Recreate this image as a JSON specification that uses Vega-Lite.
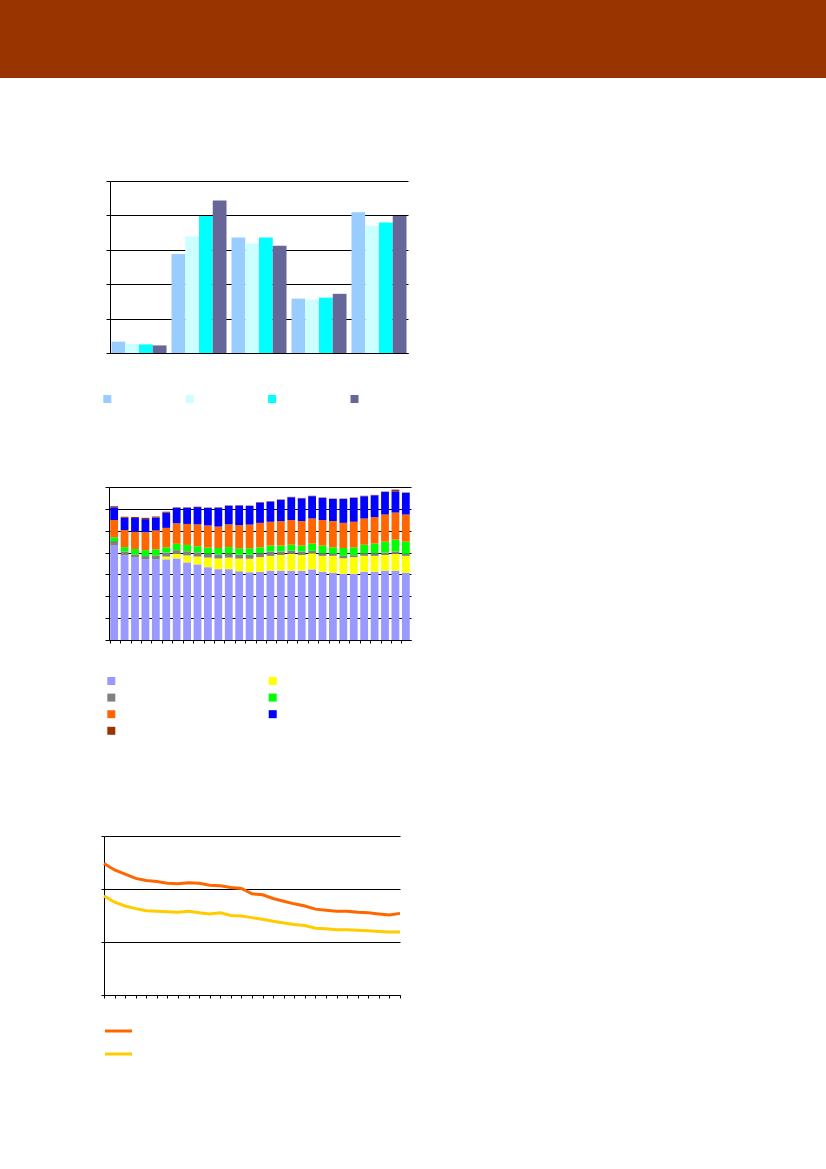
{
  "$schema": "https://vega.github.io/schema/vega-lite/v6.json",
  "padding": 0,
  "spacing": 0,
  "background": "white",
  "resolve": {"scale": {"color": "independent"}, "legend": {"color": "independent"}},
  "config": {
    "view": {"stroke": null},
    "axis": {"labels": false, "title": null, "domainColor": "black", "tickColor": "black", "gridColor": "black", "gridOpacity": 1, "domainWidth": 1, "tickWidth": 1, "gridWidth": 1},
    "legend": {"title": null, "padding": 0, "labelExpr": "''", "labelFontSize": 1, "labelOffset": 0, "labelOpacity": 0, "labelColor": "white", "symbolStrokeWidth": 0, "symbolOpacity": 1}
  },
  "datasets": {
    "header": [{"h": "band"}],
    "empty": [],
    "groups": [
      {"g": "G1", "s": "S1", "v": 0.33}, {"g": "G1", "s": "S2", "v": 0.27}, {"g": "G1", "s": "S3", "v": 0.25}, {"g": "G1", "s": "S4", "v": 0.22},
      {"g": "G2", "s": "S1", "v": 2.88}, {"g": "G2", "s": "S2", "v": 3.39}, {"g": "G2", "s": "S3", "v": 3.98}, {"g": "G2", "s": "S4", "v": 4.43},
      {"g": "G3", "s": "S1", "v": 3.36}, {"g": "G3", "s": "S2", "v": 3.18}, {"g": "G3", "s": "S3", "v": 3.36}, {"g": "G3", "s": "S4", "v": 3.12},
      {"g": "G4", "s": "S1", "v": 1.58}, {"g": "G4", "s": "S2", "v": 1.55}, {"g": "G4", "s": "S3", "v": 1.61}, {"g": "G4", "s": "S4", "v": 1.72},
      {"g": "G5", "s": "S1", "v": 4.09}, {"g": "G5", "s": "S2", "v": 3.70}, {"g": "G5", "s": "S3", "v": 3.79}, {"g": "G5", "s": "S4", "v": 3.98}
    ],
    "stack": [
      {"p": 1, "s": "S1", "v": 43.3}, {"p": 1, "s": "S3", "v": 2.0}, {"p": 1, "s": "S4", "v": 1.7}, {"p": 1, "s": "S5", "v": 7.9}, {"p": 1, "s": "S6", "v": 5.8}, {"p": 1, "s": "S7", "v": 0.5},
      {"p": 2, "s": "S1", "v": 38.7}, {"p": 2, "s": "S3", "v": 1.8}, {"p": 2, "s": "S4", "v": 2.0}, {"p": 2, "s": "S5", "v": 7.8}, {"p": 2, "s": "S6", "v": 5.6}, {"p": 2, "s": "S7", "v": 0.5},
      {"p": 3, "s": "S1", "v": 37.8}, {"p": 3, "s": "S3", "v": 1.3}, {"p": 3, "s": "S4", "v": 2.5}, {"p": 3, "s": "S5", "v": 8.0}, {"p": 3, "s": "S6", "v": 6.2}, {"p": 3, "s": "S7", "v": 0.5},
      {"p": 4, "s": "S1", "v": 37.0}, {"p": 4, "s": "S3", "v": 1.4}, {"p": 4, "s": "S4", "v": 2.7}, {"p": 4, "s": "S5", "v": 8.2}, {"p": 4, "s": "S6", "v": 6.0}, {"p": 4, "s": "S7", "v": 0.6},
      {"p": 5, "s": "S1", "v": 36.9}, {"p": 5, "s": "S3", "v": 1.8}, {"p": 5, "s": "S4", "v": 2.8}, {"p": 5, "s": "S5", "v": 8.6}, {"p": 5, "s": "S6", "v": 5.9}, {"p": 5, "s": "S7", "v": 0.5},
      {"p": 6, "s": "S1", "v": 36.9}, {"p": 6, "s": "S2", "v": 1.3}, {"p": 6, "s": "S3", "v": 1.8}, {"p": 6, "s": "S4", "v": 2.4}, {"p": 6, "s": "S5", "v": 8.9}, {"p": 6, "s": "S6", "v": 6.9}, {"p": 6, "s": "S7", "v": 0.5},
      {"p": 7, "s": "S1", "v": 37.3}, {"p": 7, "s": "S2", "v": 2.3}, {"p": 7, "s": "S3", "v": 1.5}, {"p": 7, "s": "S4", "v": 2.9}, {"p": 7, "s": "S5", "v": 9.4}, {"p": 7, "s": "S6", "v": 7.1}, {"p": 7, "s": "S7", "v": 0.2},
      {"p": 8, "s": "S1", "v": 35.5}, {"p": 8, "s": "S2", "v": 3.2}, {"p": 8, "s": "S3", "v": 1.9}, {"p": 8, "s": "S4", "v": 2.9}, {"p": 8, "s": "S5", "v": 9.6}, {"p": 8, "s": "S6", "v": 7.4}, {"p": 8, "s": "S7", "v": 0.2},
      {"p": 9, "s": "S1", "v": 34.6}, {"p": 9, "s": "S2", "v": 3.6}, {"p": 9, "s": "S3", "v": 1.9}, {"p": 9, "s": "S4", "v": 2.8}, {"p": 9, "s": "S5", "v": 10.0}, {"p": 9, "s": "S6", "v": 7.9}, {"p": 9, "s": "S7", "v": 0.2},
      {"p": 10, "s": "S1", "v": 33.3}, {"p": 10, "s": "S2", "v": 4.4}, {"p": 10, "s": "S3", "v": 1.8}, {"p": 10, "s": "S4", "v": 2.8}, {"p": 10, "s": "S5", "v": 10.1}, {"p": 10, "s": "S6", "v": 8.0}, {"p": 10, "s": "S7", "v": 0.2},
      {"p": 11, "s": "S1", "v": 32.4}, {"p": 11, "s": "S2", "v": 4.9}, {"p": 11, "s": "S3", "v": 1.9}, {"p": 11, "s": "S4", "v": 2.9}, {"p": 11, "s": "S5", "v": 9.8}, {"p": 11, "s": "S6", "v": 8.6}, {"p": 11, "s": "S7", "v": 0.2},
      {"p": 12, "s": "S1", "v": 32.4}, {"p": 12, "s": "S2", "v": 5.3}, {"p": 12, "s": "S3", "v": 1.8}, {"p": 12, "s": "S4", "v": 3.0}, {"p": 12, "s": "S5", "v": 10.4}, {"p": 12, "s": "S6", "v": 8.5}, {"p": 12, "s": "S7", "v": 0.2},
      {"p": 13, "s": "S1", "v": 31.5}, {"p": 13, "s": "S2", "v": 5.8}, {"p": 13, "s": "S3", "v": 1.7}, {"p": 13, "s": "S4", "v": 3.0}, {"p": 13, "s": "S5", "v": 10.5}, {"p": 13, "s": "S6", "v": 9.0}, {"p": 13, "s": "S7", "v": 0.2},
      {"p": 14, "s": "S1", "v": 31.0}, {"p": 14, "s": "S2", "v": 6.2}, {"p": 14, "s": "S3", "v": 1.8}, {"p": 14, "s": "S4", "v": 3.0}, {"p": 14, "s": "S5", "v": 10.8}, {"p": 14, "s": "S6", "v": 8.5}, {"p": 14, "s": "S7", "v": 0.2},
      {"p": 15, "s": "S1", "v": 31.2}, {"p": 15, "s": "S2", "v": 6.7}, {"p": 15, "s": "S3", "v": 1.8}, {"p": 15, "s": "S4", "v": 2.7}, {"p": 15, "s": "S5", "v": 11.2}, {"p": 15, "s": "S6", "v": 9.3}, {"p": 15, "s": "S7", "v": 0.2},
      {"p": 16, "s": "S1", "v": 31.7}, {"p": 16, "s": "S2", "v": 6.8}, {"p": 16, "s": "S3", "v": 2.0}, {"p": 16, "s": "S4", "v": 2.7}, {"p": 16, "s": "S5", "v": 10.9}, {"p": 16, "s": "S6", "v": 9.2}, {"p": 16, "s": "S7", "v": 0.2},
      {"p": 17, "s": "S1", "v": 31.7}, {"p": 17, "s": "S2", "v": 7.2}, {"p": 17, "s": "S3", "v": 1.6}, {"p": 17, "s": "S4", "v": 2.7}, {"p": 17, "s": "S5", "v": 11.2}, {"p": 17, "s": "S6", "v": 9.7}, {"p": 17, "s": "S7", "v": 0.2},
      {"p": 18, "s": "S1", "v": 31.7}, {"p": 18, "s": "S2", "v": 7.7}, {"p": 18, "s": "S3", "v": 1.4}, {"p": 18, "s": "S4", "v": 2.8}, {"p": 18, "s": "S5", "v": 11.3}, {"p": 18, "s": "S6", "v": 10.4}, {"p": 18, "s": "S7", "v": 0.2},
      {"p": 19, "s": "S1", "v": 31.7}, {"p": 19, "s": "S2", "v": 7.2}, {"p": 19, "s": "S3", "v": 1.6}, {"p": 19, "s": "S4", "v": 2.7}, {"p": 19, "s": "S5", "v": 11.2}, {"p": 19, "s": "S6", "v": 10.4}, {"p": 19, "s": "S7", "v": 0.2},
      {"p": 20, "s": "S1", "v": 32.3}, {"p": 20, "s": "S2", "v": 7.4}, {"p": 20, "s": "S3", "v": 1.1}, {"p": 20, "s": "S4", "v": 3.3}, {"p": 20, "s": "S5", "v": 11.5}, {"p": 20, "s": "S6", "v": 10.2}, {"p": 20, "s": "S7", "v": 0.2},
      {"p": 21, "s": "S1", "v": 31.2}, {"p": 21, "s": "S2", "v": 7.3}, {"p": 21, "s": "S3", "v": 1.2}, {"p": 21, "s": "S4", "v": 3.5}, {"p": 21, "s": "S5", "v": 11.7}, {"p": 21, "s": "S6", "v": 10.1}, {"p": 21, "s": "S7", "v": 0.2},
      {"p": 22, "s": "S1", "v": 30.8}, {"p": 22, "s": "S2", "v": 7.7}, {"p": 22, "s": "S3", "v": 0.9}, {"p": 22, "s": "S4", "v": 3.0}, {"p": 22, "s": "S5", "v": 12.0}, {"p": 22, "s": "S6", "v": 10.1}, {"p": 22, "s": "S7", "v": 0.2},
      {"p": 23, "s": "S1", "v": 30.3}, {"p": 23, "s": "S2", "v": 7.1}, {"p": 23, "s": "S3", "v": 1.1}, {"p": 23, "s": "S4", "v": 3.6}, {"p": 23, "s": "S5", "v": 11.5}, {"p": 23, "s": "S6", "v": 10.9}, {"p": 23, "s": "S7", "v": 0.2},
      {"p": 24, "s": "S1", "v": 30.3}, {"p": 24, "s": "S2", "v": 7.6}, {"p": 24, "s": "S3", "v": 0.9}, {"p": 24, "s": "S4", "v": 3.6}, {"p": 24, "s": "S5", "v": 11.7}, {"p": 24, "s": "S6", "v": 10.9}, {"p": 24, "s": "S7", "v": 0.2},
      {"p": 25, "s": "S1", "v": 31.2}, {"p": 25, "s": "S2", "v": 7.3}, {"p": 25, "s": "S3", "v": 1.2}, {"p": 25, "s": "S4", "v": 3.9}, {"p": 25, "s": "S5", "v": 12.0}, {"p": 25, "s": "S6", "v": 10.2}, {"p": 25, "s": "S7", "v": 0.2},
      {"p": 26, "s": "S1", "v": 31.2}, {"p": 26, "s": "S2", "v": 7.3}, {"p": 26, "s": "S3", "v": 1.2}, {"p": 26, "s": "S4", "v": 4.4}, {"p": 26, "s": "S5", "v": 12.1}, {"p": 26, "s": "S6", "v": 10.0}, {"p": 26, "s": "S7", "v": 0.2},
      {"p": 27, "s": "S1", "v": 31.7}, {"p": 27, "s": "S2", "v": 7.2}, {"p": 27, "s": "S3", "v": 1.1}, {"p": 27, "s": "S4", "v": 5.0}, {"p": 27, "s": "S5", "v": 12.4}, {"p": 27, "s": "S6", "v": 10.3}, {"p": 27, "s": "S7", "v": 0.2},
      {"p": 28, "s": "S1", "v": 31.7}, {"p": 28, "s": "S2", "v": 7.7}, {"p": 28, "s": "S3", "v": 1.1}, {"p": 28, "s": "S4", "v": 5.4}, {"p": 28, "s": "S5", "v": 12.4}, {"p": 28, "s": "S6", "v": 9.7}, {"p": 28, "s": "S7", "v": 0.8},
      {"p": 29, "s": "S1", "v": 30.8}, {"p": 29, "s": "S2", "v": 7.7}, {"p": 29, "s": "S3", "v": 0.9}, {"p": 29, "s": "S4", "v": 5.6}, {"p": 29, "s": "S5", "v": 12.4}, {"p": 29, "s": "S6", "v": 9.9}, {"p": 29, "s": "S7", "v": 0.2}
    ],
    "lines": [
      {"p": 1, "s": "A", "v": 2.48}, {"p": 2, "s": "A", "v": 2.36}, {"p": 3, "s": "A", "v": 2.28}, {"p": 4, "s": "A", "v": 2.20}, {"p": 5, "s": "A", "v": 2.16},
      {"p": 6, "s": "A", "v": 2.14}, {"p": 7, "s": "A", "v": 2.11}, {"p": 8, "s": "A", "v": 2.10}, {"p": 9, "s": "A", "v": 2.12}, {"p": 10, "s": "A", "v": 2.11},
      {"p": 11, "s": "A", "v": 2.07}, {"p": 12, "s": "A", "v": 2.06}, {"p": 13, "s": "A", "v": 2.03}, {"p": 14, "s": "A", "v": 2.01}, {"p": 15, "s": "A", "v": 1.91},
      {"p": 16, "s": "A", "v": 1.89}, {"p": 17, "s": "A", "v": 1.82}, {"p": 18, "s": "A", "v": 1.77}, {"p": 19, "s": "A", "v": 1.72}, {"p": 20, "s": "A", "v": 1.68},
      {"p": 21, "s": "A", "v": 1.62}, {"p": 22, "s": "A", "v": 1.60}, {"p": 23, "s": "A", "v": 1.58}, {"p": 24, "s": "A", "v": 1.58}, {"p": 25, "s": "A", "v": 1.56},
      {"p": 26, "s": "A", "v": 1.55}, {"p": 27, "s": "A", "v": 1.53}, {"p": 28, "s": "A", "v": 1.51}, {"p": 29, "s": "A", "v": 1.54},
      {"p": 1, "s": "B", "v": 1.87}, {"p": 2, "s": "B", "v": 1.75}, {"p": 3, "s": "B", "v": 1.68}, {"p": 4, "s": "B", "v": 1.63}, {"p": 5, "s": "B", "v": 1.59},
      {"p": 6, "s": "B", "v": 1.58}, {"p": 7, "s": "B", "v": 1.57}, {"p": 8, "s": "B", "v": 1.56}, {"p": 9, "s": "B", "v": 1.58}, {"p": 10, "s": "B", "v": 1.55},
      {"p": 11, "s": "B", "v": 1.53}, {"p": 12, "s": "B", "v": 1.55}, {"p": 13, "s": "B", "v": 1.50}, {"p": 14, "s": "B", "v": 1.49}, {"p": 15, "s": "B", "v": 1.46},
      {"p": 16, "s": "B", "v": 1.43}, {"p": 17, "s": "B", "v": 1.39}, {"p": 18, "s": "B", "v": 1.36}, {"p": 19, "s": "B", "v": 1.33}, {"p": 20, "s": "B", "v": 1.31},
      {"p": 21, "s": "B", "v": 1.26}, {"p": 22, "s": "B", "v": 1.25}, {"p": 23, "s": "B", "v": 1.23}, {"p": 24, "s": "B", "v": 1.23}, {"p": 25, "s": "B", "v": 1.22},
      {"p": 26, "s": "B", "v": 1.21}, {"p": 27, "s": "B", "v": 1.20}, {"p": 28, "s": "B", "v": 1.19}, {"p": 29, "s": "B", "v": 1.19}
    ]
  },
  "vconcat": [
    {
      "width": 826,
      "height": 78,
      "view": {"fill": "#993300", "stroke": null},
      "data": {"name": "header"},
      "mark": {"type": "rect", "color": "#993300"},
      "encoding": {
        "x": {"field": "h", "type": "nominal", "scale": {"paddingInner": 0, "paddingOuter": 0},
              "axis": {"domain": false, "ticks": false, "labels": false, "minExtent": 102, "maxExtent": 102}}
      }
    },
    {
      "spacing": 0,
      "hconcat": [
        {"width": 104, "height": 10, "data": {"name": "empty"}, "mark": "rect", "encoding": {}},
        {
          "width": 298,
          "height": 172,
          "data": {"name": "groups"},
          "mark": {"type": "bar", "cornerRadius": 0},
          "encoding": {
            "x": {"field": "g", "type": "nominal", "scale": {"paddingInner": 0.083, "paddingOuter": 0.025},
                  "axis": {"ticks": false, "minExtent": 133, "maxExtent": 133}},
            "xOffset": {"field": "s", "type": "nominal", "scale": {"paddingInner": 0, "paddingOuter": 0}},
            "y": {"field": "v", "type": "quantitative", "scale": {"domain": [0, 5], "nice": false},
                  "axis": {"values": [0, 1, 2, 3, 4, 5], "grid": true, "tickSize": 4, "minExtent": 6, "maxExtent": 6}},
            "color": {"field": "s", "type": "nominal",
                      "scale": {"domain": ["S1", "S2", "S3", "S4"], "range": ["#99CCFF", "#CCFFFF", "#00FFFF", "#666699"]},
                      "legend": {"orient": "none", "legendX": 103.3, "legendY": 214, "direction": "horizontal", "columns": 4,
                                 "symbolType": "square", "symbolSize": 64, "columnPadding": 72.4, "labelOpacity": 0}}
          }
        }
      ]
    },
    {
      "spacing": 0,
      "hconcat": [
        {"width": 103, "height": 10, "data": {"name": "empty"}, "mark": "rect", "encoding": {}},
        {
          "width": 302,
          "height": 153,
          "data": {"name": "stack"},
          "mark": {"type": "bar", "cornerRadius": 0},
          "encoding": {
            "x": {"field": "p", "type": "ordinal", "scale": {"paddingInner": 0.25, "paddingOuter": 0.12},
                  "axis": {"bandPosition": 0, "tickSize": 3, "minExtent": 195, "maxExtent": 195}},
            "y": {"field": "v", "type": "quantitative", "stack": "zero", "scale": {"domain": [0, 70], "nice": false},
                  "axis": {"values": [0, 10, 20, 30, 40, 50, 60, 70], "grid": true, "tickSize": 4, "minExtent": 6, "maxExtent": 6}},
            "order": {"field": "s", "sort": "ascending"},
            "color": {"field": "s", "type": "nominal",
                      "scale": {"domain": ["S1", "S2", "S3", "S4", "S5", "S6", "S7"],
                                "range": ["#9999FF", "#FFFF00", "#808080", "#00FF00", "#FF6600", "#0000FF", "#993300"]},
                      "legend": {"orient": "none", "legendX": 107.3, "legendY": 190, "direction": "horizontal", "columns": 2,
                                 "symbolType": "square", "symbolSize": 64, "columnPadding": 151.4, "rowPadding": 8.6, "labelOpacity": 0}}
          }
        }
      ]
    },
    {
      "spacing": 0,
      "hconcat": [
        {"width": 98, "height": 10, "data": {"name": "empty"}, "mark": "rect", "encoding": {}},
        {
          "width": 296,
          "height": 159,
          "data": {"name": "lines"},
          "mark": {"type": "line", "strokeWidth": 3},
          "encoding": {
            "x": {"field": "p", "type": "ordinal", "scale": {"type": "point", "padding": 0},
                  "axis": {"tickSize": 3, "minExtent": 120, "maxExtent": 120}},
            "y": {"field": "v", "type": "quantitative", "scale": {"domain": [0, 3], "nice": false},
                  "axis": {"values": [0, 1, 2, 3], "grid": true, "tickSize": 3, "minExtent": 6, "maxExtent": 6}},
            "color": {"field": "s", "type": "nominal",
                      "scale": {"domain": ["A", "B"], "range": ["#FF6600", "#FFCC00"]},
                      "legend": {"orient": "none", "legendX": 103.5, "legendY": 180, "direction": "vertical",
                                 "symbolType": "stroke", "symbolSize": 729, "symbolStrokeWidth": 3, "rowPadding": 2, "labelOpacity": 0}}
          }
        }
      ]
    }
  ]
}
